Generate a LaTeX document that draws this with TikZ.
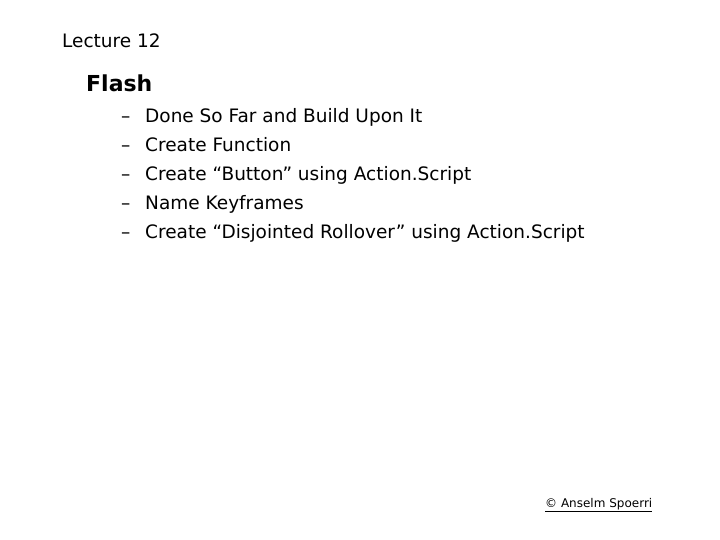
\documentclass[tikz,border=0pt]{standalone}
\usepackage{fontspec}
\setmainfont{DejaVu Sans}
\begin{document}
\begin{tikzpicture}[x=1bp,y=-1bp,
  txt/.style={anchor=base west,inner sep=0pt,font=\fontsize{18.5bp}{22bp}\selectfont}]
\useasboundingbox (0,0) rectangle (720,540);
\node[txt] (t) at (62,48) {Lecture 12};
\node[txt,font=\fontsize{22bp}{26bp}\selectfont\bfseries] (f) at (86,92) {Flash};
\foreach \y/\s [count=\i] in {123/Done So Far and Build Upon It,152/Create Function,181/Create “Button” using Action.Script,210/Name Keyframes,239/Create “Disjointed Rollover” using Action.Script}{
  \node[txt] (d\i) at (121,\y) {–};
  \node[txt] (b\i) at (145,\y) {\s};
}
\node[txt,font=\fontsize{12bp}{14bp}\selectfont] (c) at (545,507) {\underline{© Anselm Spoerri}};
\end{tikzpicture}
\end{document}
